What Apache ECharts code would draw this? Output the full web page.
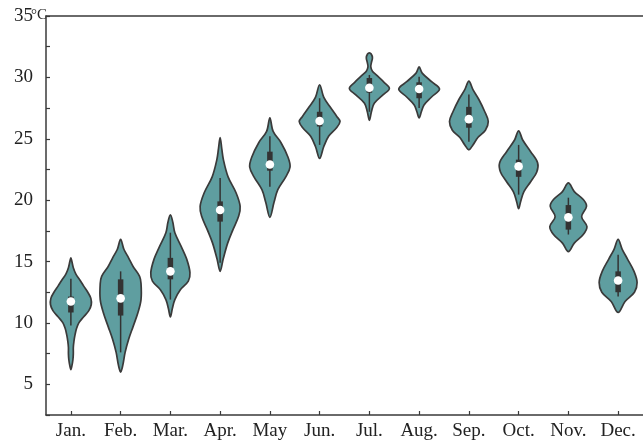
<!DOCTYPE html>
<html>
<head>
<meta charset="utf-8">
<script src="https://cdn.jsdelivr.net/npm/echarts@6/dist/echarts.min.js"></script>
<style>
  html, body { margin: 0; padding: 0; background: #fff; }
  #chart { width: 643px; height: 441px; }
</style>
</head>
<body>
<div id="chart"></div>
<script>
// Monthly temperature distributions (°C), drawn as violins with an inner box plot.
const months = ['Jan.', 'Feb.', 'Mar.', 'Apr.', 'May', 'Jun.', 'Jul.', 'Aug.', 'Sep.', 'Oct.', 'Nov.', 'Dec.'];

// Density profiles: [temperature, relative density (1 = widest violin)], top to bottom.
const janShape = [[15.3,0],[15.0,0.05],[14.5,0.12],[14,0.24],[13.5,0.44],[13,0.63],[12.5,0.83],[12,0.98],[11.5,1.0],[11,0.88],[10.5,0.63],[10,0.39],[9.5,0.27],[9,0.2],[8.5,0.15],[8,0.12],[7.5,0.12],[7,0.1],[6.5,0.05],[6.2,0]];
const febShape = [[16.8,0],[16.0,0.16],[15.3,0.39],[14.6,0.61],[13.8,0.93],[13.2,1.0],[11.9,1.0],[10.85,0.85],[9.7,0.61],[8.65,0.39],[7.6,0.22],[6.5,0.1],[6.0,0]];
const marShape = [[18.8,0],[18.2,0.12],[17.35,0.22],[16.2,0.54],[15.2,0.8],[14.1,0.96],[13.4,0.88],[12.7,0.49],[11.9,0.22],[11.2,0.1],[10.5,0]];
const aprShape = [[25.1,0],[24.2,0.08],[23.3,0.16],[21.9,0.39],[20.6,0.78],[19.5,0.98],[18.7,0.91],[17.6,0.63],[16.5,0.37],[15.2,0.15],[14.2,0]];
const mayShape = [[26.7,0],[25.6,0.16],[24.7,0.54],[23.5,0.89],[22.7,0.99],[21.9,0.78],[20.85,0.39],[19.8,0.2],[18.6,0]];
const junShape = [[29.4,0],[28.4,0.2],[27.6,0.51],[26.8,0.85],[26.4,1.0],[25.9,0.83],[25.2,0.44],[24.35,0.2],[23.4,0]];
const julShape = [[32.0,0],[31.9,0.09],[31.6,0.15],[31.2,0.1],[30.85,0.07],[30.5,0.15],[30.2,0.34],[29.6,0.72],[29.1,0.98],[28.6,0.68],[27.9,0.24],[27.2,0.1],[26.5,0]];
const augShape = [[30.85,0],[30.35,0.15],[29.65,0.61],[29.05,1.0],[28.4,0.61],[27.75,0.24],[27.2,0.11],[26.7,0]];
const sepShape = [[29.7,0],[29.0,0.2],[28.2,0.49],[27.2,0.78],[26.4,0.95],[25.7,0.81],[25.1,0.44],[24.5,0.2],[24.1,0]];
const octShape = [[25.65,0],[24.9,0.2],[23.95,0.59],[23.05,0.93],[22.3,0.89],[21.5,0.59],[20.7,0.26],[19.9,0.1],[19.3,0]];
const novShape = [[21.4,0],[20.7,0.29],[20.05,0.73],[19.5,0.89],[18.65,0.65],[17.85,0.91],[17.2,0.73],[16.5,0.29],[15.8,0]];
const decShape = [[16.8,0],[16.0,0.2],[15.2,0.46],[14.2,0.78],[13.3,0.93],[12.5,0.8],[11.75,0.34],[10.85,0]];
const shapes = [janShape, febShape, marShape, aprShape, mayShape, junShape, julShape, augShape, sepShape, octShape, novShape, decShape];

// Box plot statistics per month
const whiskerLow  = [9.8, 7.6, 11.9, 14.9, 21.1, 24.5, 27.2, 27.5, 24.75, 20.45, 17.2, 12.15];
const q1          = [10.85, 10.6, 13.55, 18.25, 22.4, 26.0, 28.75, 28.3, 25.9, 21.9, 17.6, 12.5];
const median      = [11.75, 12.0, 14.2, 19.2, 22.9, 26.45, 29.15, 29.05, 26.6, 22.75, 18.6, 13.45];
const q3          = [12.15, 13.55, 15.3, 19.9, 23.95, 27.2, 29.95, 29.6, 27.6, 23.3, 19.6, 14.2];
const whiskerHigh = [13.6, 14.2, 17.35, 21.8, 25.2, 28.3, 30.2, 30.05, 28.6, 24.5, 20.2, 15.55];

const FONT = '"Liberation Serif", "Times New Roman", serif';
const AXIS_COLOR = '#3a3a3a';

const chart = echarts.init(document.getElementById('chart'), null, { renderer: 'canvas' });

function renderViolin(params, api) {
  const i = params.dataIndex;
  const cx = api.coord([i, median[i]])[0];
  const band = api.size([1, 0])[0];
  const halfMax = band * 0.41;
  const shape = shapes[i];

  const right = shape.map(p => [cx + p[1] * halfMax, api.coord([i, p[0]])[1]]);
  const left = shape.slice(1, -1).reverse().map(p => [cx - p[1] * halfMax, api.coord([i, p[0]])[1]]);
  const outline = right.concat(left);

  const yWl = api.coord([i, whiskerLow[i]])[1];
  const yWh = api.coord([i, whiskerHigh[i]])[1];
  const yQ1 = api.coord([i, q1[i]])[1];
  const yQ3 = api.coord([i, q3[i]])[1];
  const yMed = api.coord([i, median[i]])[1];
  const boxW = 5.5;

  return {
    type: 'group',
    children: [
      {
        type: 'polygon',
        shape: { points: outline, smooth: 0.35 },
        style: { fill: '#5F9EA0', stroke: '#3a3a3a', lineWidth: 1.7 }
      },
      {
        type: 'line',
        shape: { x1: cx, y1: yWh, x2: cx, y2: yWl },
        style: { stroke: '#333', lineWidth: 1.5 }
      },
      {
        type: 'rect',
        shape: { x: cx - boxW / 2, y: yQ3, width: boxW, height: yQ1 - yQ3 },
        style: { fill: '#333' }
      },
      {
        type: 'circle',
        shape: { cx: cx, cy: yMed, r: 4.3 },
        style: { fill: '#fff' }
      }
    ]
  };
}

chart.setOption({
  animation: false,
  backgroundColor: '#fff',
  grid: { left: 46, top: 16, width: 601, bottom: 26, containLabel: false },
  xAxis: [
    {
      type: 'category',
      data: months,
      boundaryGap: true,
      axisLine: { show: true, lineStyle: { color: AXIS_COLOR, width: 1.5 } },
      axisTick: { show: true, inside: true, alignWithLabel: true, length: 4, lineStyle: { color: AXIS_COLOR, width: 1.2 } },
      axisLabel: { fontFamily: FONT, fontSize: 19, color: '#222', margin: 7, interval: 0 },
      splitLine: { show: false }
    },
    {
      type: 'category',
      data: months,
      position: 'top',
      axisLine: { show: true, lineStyle: { color: AXIS_COLOR, width: 1.5 } },
      axisTick: { show: false },
      axisLabel: { show: false },
      splitLine: { show: false }
    }
  ],
  yAxis: {
    type: 'value',
    min: 2.5,
    max: 35,
    interval: 2.5,
    axisLine: { show: true, lineStyle: { color: AXIS_COLOR, width: 1.5 } },
    axisTick: { show: true, inside: true, length: 4, lineStyle: { color: AXIS_COLOR, width: 1.2 } },
    axisLabel: {
      fontFamily: FONT, fontSize: 19, color: '#222', margin: 13,
      formatter: v => (v % 5 === 0 ? String(v) : '')
    },
    splitLine: { show: false }
  },
  graphic: [
    {
      type: 'text',
      left: 31,
      top: 8,
      style: { text: '°C', font: '15px ' + FONT, fill: '#222' }
    }
  ],
  series: [
    {
      type: 'custom',
      renderItem: renderViolin,
      data: months.map((m, i) => [i, median[i]]),
      clip: false,
      z: 5
    }
  ]
});
</script>
</body>
</html>
